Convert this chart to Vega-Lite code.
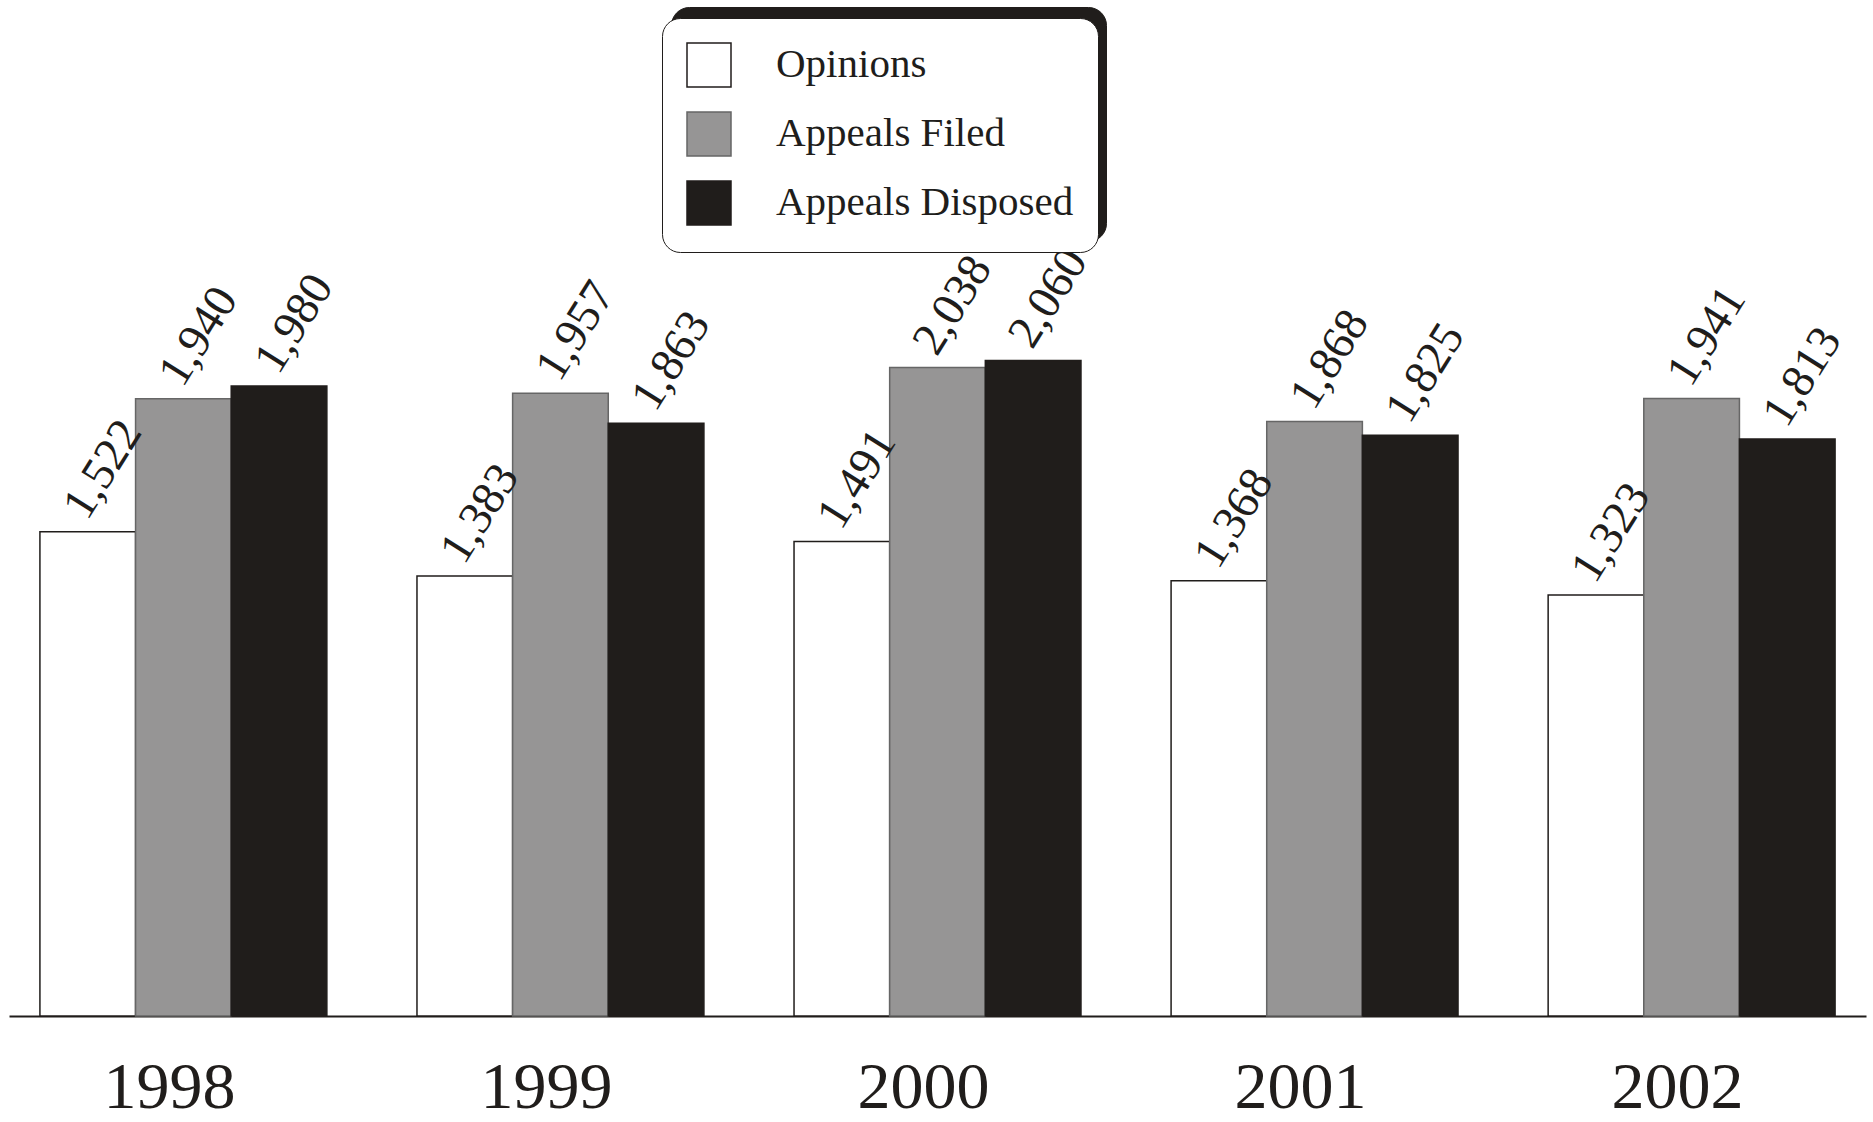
{
  "$schema": "https://vega.github.io/schema/vega-lite/v6.json",
  "width": 1857,
  "height": 1016,
  "padding": {"left": 9, "top": 0, "right": 7, "bottom": 106},
  "autosize": "none",
  "background": "white",
  "config": {"view": {"stroke": null}, "font": "Liberation Serif"},
  "data": {
    "values": [
      {"Year": "1998", "Series": "Opinions", "Key": "Opinions", "Value": 1522},
      {"Year": "1998", "Series": "Appeals Filed", "Key": "Appeals Filed", "Value": 1940},
      {"Year": "1998", "Series": "Appeals Disposed", "Key": "Appeals Disposed", "Value": 1980},
      {"Year": "1999", "Series": "Opinions", "Key": "Opinions", "Value": 1383},
      {"Year": "1999", "Series": "Appeals Filed", "Key": "Appeals Filed", "Value": 1957},
      {"Year": "1999", "Series": "Appeals Disposed", "Key": "Appeals Disposed", "Value": 1863},
      {"Year": "2000", "Series": "Opinions", "Key": "Opinions", "Value": 1491},
      {"Year": "2000", "Series": "Appeals Filed", "Key": "Appeals Filed", "Value": 2038},
      {"Year": "2000", "Series": "Appeals Disposed", "Key": "Appeals Disposed", "Value": 2060},
      {"Year": "2001", "Series": "Opinions", "Key": "Opinions", "Value": 1368},
      {"Year": "2001", "Series": "Appeals Filed", "Key": "Appeals Filed", "Value": 1868},
      {"Year": "2001", "Series": "Appeals Disposed", "Key": "Appeals Disposed", "Value": 1825},
      {"Year": "2002", "Series": "Opinions", "Key": "Opinions", "Value": 1323},
      {"Year": "2002", "Series": "Appeals Filed", "Key": "Appeals Filed", "Value": 1941},
      {"Year": "2002", "Series": "Appeals Disposed", "Key": "Appeals Disposed", "Value": 1813}
    ]
  },
  "encoding": {
    "x": {
      "field": "Year", "type": "nominal",
      "scale": {"paddingInner": 0.239, "paddingOuter": 0.082},
      "axis": {
        "title": null, "labelAngle": 0, "ticks": false, "tickSize": 0,
        "domainColor": "#201d1b", "domainWidth": 2,
        "labelFont": "Liberation Serif", "labelFontSize": 66, "labelColor": "#201d1b",
        "labelBaseline": "alphabetic", "labelPadding": 91, "labelOffset": -14
      }
    },
    "xOffset": {
      "field": "Series", "type": "nominal",
      "sort": ["Opinions", "Appeals Filed", "Appeals Disposed"],
      "scale": {"paddingInner": 0, "paddingOuter": 0}
    },
    "y": {
      "field": "Value", "type": "quantitative",
      "scale": {"domain": [0, 3193], "nice": false, "zero": true},
      "axis": null
    }
  },
  "layer": [
    {
      "mark": {"type": "bar", "strokeWidth": 1.5},
      "encoding": {
        "fill": {
          "field": "Series", "type": "nominal",
          "sort": ["Opinions", "Appeals Filed", "Appeals Disposed"],
          "scale": {"domain": ["Opinions", "Appeals Filed", "Appeals Disposed"], "range": ["#ffffff", "#969595", "#201d1b"]},
          "legend": {
            "title": null, "orient": "none", "legendX": 653, "legendY": 18, "zindex": 2,
            "fillColor": "#ffffff", "strokeColor": "#201d1b", "cornerRadius": 18, "padding": 24,
            "symbolType": "square", "symbolSize": 1936, "symbolStrokeWidth": 1.5,
            "labelFont": "Liberation Serif", "labelFontSize": 41, "labelColor": "#201d1b",
            "labelOffset": 44, "rowPadding": 19, "labelLimit": 500
          }
        },
        "stroke": {
          "field": "Series", "type": "nominal",
          "sort": ["Opinions", "Appeals Filed", "Appeals Disposed"],
          "scale": {"domain": ["Opinions", "Appeals Filed", "Appeals Disposed"], "range": ["#201d1b", "#666666", "#201d1b"]},
          "legend": {
            "title": null, "orient": "none", "legendX": 653, "legendY": 18, "zindex": 2,
            "fillColor": "#ffffff", "strokeColor": "#201d1b", "cornerRadius": 18, "padding": 24,
            "symbolType": "square", "symbolSize": 1936, "symbolStrokeWidth": 1.5,
            "labelFont": "Liberation Serif", "labelFontSize": 41, "labelColor": "#201d1b",
            "labelOffset": 44, "rowPadding": 19, "labelLimit": 500
          }
        },
        "opacity": {
          "field": "Key", "type": "ordinal",
          "sort": ["Opinions", "Appeals Filed", "Appeals Disposed"],
          "scale": {"range": [1, 1, 1]},
          "legend": {
            "title": null, "orient": "none", "legendX": 662, "legendY": 7, "zindex": 1,
            "fillColor": "#201d1b", "strokeColor": "#201d1b", "cornerRadius": 18, "padding": 24,
            "symbolType": "square", "symbolSize": 1936, "symbolStrokeWidth": 1.5,
            "labelFont": "Liberation Serif", "labelFontSize": 41, "labelColor": "#201d1b",
            "labelOffset": 341, "rowPadding": 19, "labelLimit": 500,
            "labelExpr": "''",
            "encode": {
              "symbols": {"update": {"opacity": {"value": 0}}}
            }
          }
        }
      }
    },
    {
      "mark": {
        "type": "text", "angle": -58, "align": "left", "baseline": "alphabetic",
        "font": "Liberation Serif", "fontSize": 47, "color": "#201d1b",
        "dx": 8, "dy": -6
      },
      "encoding": {
        "text": {"field": "Value", "type": "quantitative", "format": ","}
      }
    }
  ]
}
